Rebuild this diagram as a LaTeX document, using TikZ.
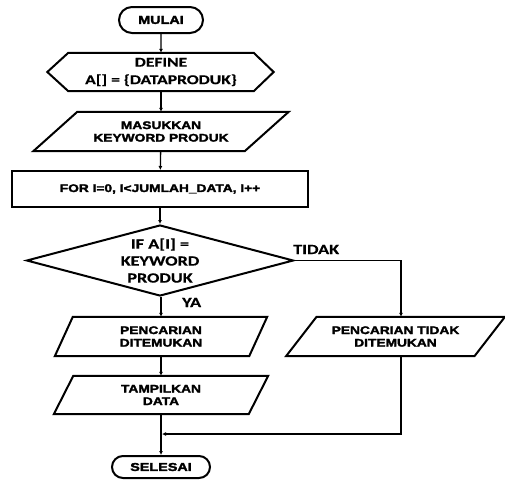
\documentclass[tikz,border=0pt]{standalone}
\usepackage{fontspec}
\usetikzlibrary{shapes.geometric,shapes.misc,arrows.meta}
\newfontfamily\fa{Liberation Sans}[FakeStretch=1.25,FakeBold=2.5]
\newfontfamily\fb{Carlito}[FakeStretch=1.3,FakeBold=0.6]
\newcommand{\drawparallel}[2]{%
  \draw[shp] ([xshift=#2]#1.north west) -- ([xshift=#2]#1.north east)
    -- ([xshift=-#2]#1.south east) -- ([xshift=-#2]#1.south west) -- cycle;}
\tikzset{
  shp/.style={line width=2pt, line join=miter},
  txtA/.style={font=\fa\bfseries\fontsize{11}{12.5}\selectfont, align=center, inner sep=0pt},
  txtB/.style={font=\fb\bfseries\fontsize{13.5}{17.5}\selectfont, align=center, inner sep=0pt},
  conn/.style={line width=1.3pt, -{Latex[length=4pt,width=4pt]}},
  plainline/.style={line width=1.3pt}
}
\begin{document}
\begin{tikzpicture}[x=1pt,y=-1pt]
\useasboundingbox (0,0) rectangle (505,480);
% start
\node[shp, draw, rounded rectangle, minimum width=84pt, minimum height=26pt, txtA, font=\fa\bfseries\fontsize{11.5}{13}\selectfont] (start) at (161,20) {MULAI};
% define hexagon
\node[txtB, minimum width=185pt, minimum height=38pt] (def) at (161,72) {DEFINE\\A[] = \{DATAPRODUK\}};
\draw[shp] (def.north west) -- (def.north east) -- ([xshift=20pt]def.east) -- (def.south east) -- (def.south west) -- ([xshift=-21pt]def.west) -- cycle;
% input keyword
\node[txtA, minimum width=211pt, minimum height=39pt] (inp) at (161,131.5) {MASUKKAN\\KEYWORD PRODUK};
\drawparallel{inp}{22pt}
% for loop
\node[shp, draw, rectangle, minimum width=296pt, minimum height=36pt, txtA] (loop) at (160,189) {FOR I=0, I<JUMLAH\_DATA, I++};
% decision
\node[shp, draw, diamond, aspect=3.76, minimum width=267pt, minimum height=71pt, txtB, font=\fb\bfseries\fontsize{14}{17}\selectfont] (dec) at (160,260.5) {IF A[I] =\\KEYWORD\\PRODUK};
% found
\node[txtA, minimum width=194pt, minimum height=39pt] (found) at (161,336.5) {PENCARIAN\\DITEMUKAN};
\drawparallel{found}{9pt}
% show
\node[txtA, minimum width=194.5pt, minimum height=38pt] (show) at (161,395) {TAMPILKAN\\DATA};
\drawparallel{show}{9.75pt}
% not found
\node[txtA, minimum width=188pt, minimum height=39pt] (nf) at (395.5,336.5) {PENCARIAN TIDAK\\DITEMUKAN};
\drawparallel{nf}{15.25pt}
% end
\node[shp, draw, rounded rectangle, minimum width=98pt, minimum height=22pt, txtA, font=\fa\bfseries\fontsize{11.5}{13}\selectfont] (stop) at (161,467) {SELESAI};
% labels
\node[txtB, font=\fb\bfseries\fontsize{14}{17}\selectfont, anchor=base west] (tidak) at (293,254) {TIDAK};
\node[txtB, font=\fb\bfseries\fontsize{14}{17}\selectfont, anchor=base west] (ya) at (182,307) {YA};
% connectors
\coordinate (merge) at (161,434);
\draw[conn] (start) -- (def);
\draw[conn] (def) -- (inp);
\draw[conn] (inp) -- (loop);
\draw[conn] (loop.south) -- (loop.south |- dec.north);
\draw[conn] (dec.south -| found.north) -- (found.north);
\draw[conn] (dec.east) -| ([xshift=5.5pt]nf.north);
\draw[conn] (found) -- (show);
\draw[conn] (show) -- (stop);
\draw[conn] ([xshift=5.5pt]nf.south) |- ([xshift=1pt]merge);
\end{tikzpicture}
\end{document}
